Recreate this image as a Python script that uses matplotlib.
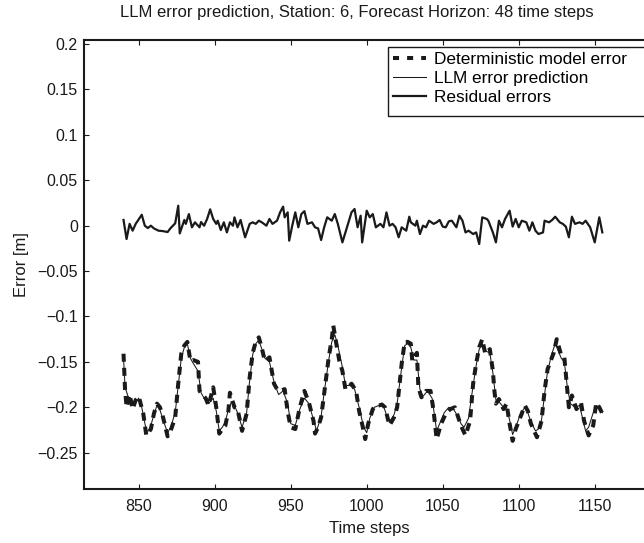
import matplotlib
matplotlib.use("Agg")
import matplotlib.pyplot as plt
from matplotlib.lines import Line2D
from matplotlib.patches import Rectangle

plt.rcParams['font.family'] = ['Liberation Sans', 'DejaVu Sans']

# deterministic model error
det_steps = [840, 841, 842, 844, 846, 848, 850, 853, 855, 858, 860, 862, 864, 866, 869, 871,
             874, 876, 878, 880, 882, 884, 886, 889, 890, 892, 894, 896, 899, 901, 903, 905,
             907, 909, 910, 913, 915, 918, 921, 923, 925, 927, 929, 931, 933, 936, 939, 941,
             943, 946, 948, 950, 953, 956, 959, 962, 965, 966, 968, 970, 972, 975, 977, 978,
             980, 982, 984, 986, 988, 990, 993, 995, 998, 999, 1001, 1004, 1006, 1008, 1010,
             1012, 1015, 1018, 1020, 1023, 1025, 1027, 1029, 1030, 1033, 1034, 1036, 1039,
             1042, 1044, 1046, 1049, 1052, 1055, 1058, 1061, 1063, 1065, 1068, 1070, 1072,
             1074, 1076, 1078, 1081, 1083, 1084, 1085, 1087, 1090, 1092, 1094, 1096, 1098,
             1102, 1104, 1106, 1108, 1112, 1115, 1117, 1119, 1123, 1125, 1128, 1130, 1131,
             1132, 1133, 1135, 1138, 1141, 1143, 1146, 1149, 1151, 1153, 1155]
det_err = [-0.141, -0.180, -0.200, -0.186, -0.202, -0.192, -0.188, -0.207, -0.231, -0.224,
           -0.207, -0.196, -0.200, -0.211, -0.232, -0.226, -0.211, -0.174, -0.141, -0.132,
           -0.128, -0.149, -0.148, -0.150, -0.182, -0.186, -0.190, -0.198, -0.178, -0.200,
           -0.229, -0.224, -0.220, -0.204, -0.184, -0.200, -0.202, -0.226, -0.207, -0.167,
           -0.140, -0.128, -0.123, -0.135, -0.149, -0.145, -0.174, -0.180, -0.182, -0.180,
           -0.205, -0.222, -0.224, -0.200, -0.182, -0.195, -0.215, -0.229, -0.222, -0.211,
           -0.185, -0.145, -0.125, -0.110, -0.130, -0.149, -0.160, -0.180, -0.178, -0.174,
           -0.182, -0.204, -0.226, -0.235, -0.218, -0.202, -0.198, -0.198, -0.197, -0.200,
           -0.220, -0.211, -0.200, -0.152, -0.128, -0.128, -0.130, -0.149, -0.140, -0.178,
           -0.189, -0.182, -0.182, -0.204, -0.235, -0.218, -0.207, -0.202, -0.200, -0.215,
           -0.224, -0.231, -0.215, -0.174, -0.152, -0.134, -0.125, -0.141, -0.136, -0.160,
           -0.182, -0.196, -0.191, -0.202, -0.196, -0.218, -0.237, -0.224, -0.207, -0.198,
           -0.204, -0.218, -0.233, -0.215, -0.182, -0.158, -0.140, -0.125, -0.143, -0.145,
           -0.163, -0.182, -0.200, -0.187, -0.202, -0.195, -0.215, -0.231, -0.220, -0.195,
           -0.200, -0.207]

# LLM error prediction
llm_steps = [840, 841, 843, 845, 847, 850, 852, 855, 857, 860, 862, 864, 866, 869, 871, 874,
             876, 878, 880, 882, 884, 886, 889, 891, 893, 896, 899, 901, 903, 905, 907, 909,
             911, 913, 915, 918, 921, 923, 925, 927, 929, 931, 933, 936, 939, 942, 945, 948,
             950, 953, 956, 959, 962, 965, 967, 970, 972, 975, 977, 979, 981, 984, 986, 989,
             992, 995, 998, 1000, 1002, 1005, 1008, 1011, 1014, 1016, 1018, 1020, 1023, 1025,
             1027, 1029, 1031, 1033, 1035, 1037, 1040, 1043, 1046, 1048, 1051, 1054, 1057,
             1060, 1062, 1064, 1067, 1070, 1072, 1074, 1076, 1078, 1081, 1083, 1085, 1087,
             1090, 1092, 1094, 1096, 1098, 1101, 1104, 1106, 1108, 1111, 1113, 1115, 1117,
             1119, 1122, 1124, 1126, 1128, 1130, 1132, 1134, 1137, 1140, 1142, 1144, 1146,
             1149, 1151, 1153, 1155]
llm_err = [-0.145, -0.178, -0.188, -0.192, -0.196, -0.190, -0.200, -0.226, -0.226, -0.208,
           -0.198, -0.203, -0.214, -0.228, -0.222, -0.206, -0.176, -0.146, -0.134, -0.130,
           -0.146, -0.152, -0.160, -0.184, -0.190, -0.196, -0.190, -0.204, -0.226, -0.222,
           -0.216, -0.202, -0.194, -0.198, -0.206, -0.222, -0.206, -0.170, -0.142, -0.130,
           -0.126, -0.136, -0.146, -0.150, -0.172, -0.186, -0.182, -0.196, -0.218, -0.220,
           -0.202, -0.190, -0.196, -0.214, -0.226, -0.210, -0.184, -0.148, -0.128, -0.120,
           -0.132, -0.156, -0.176, -0.176, -0.180, -0.200, -0.222, -0.228, -0.212, -0.200,
           -0.198, -0.198, -0.214, -0.214, -0.208, -0.196, -0.156, -0.132, -0.130, -0.134,
           -0.148, -0.148, -0.180, -0.188, -0.182, -0.190, -0.226, -0.218, -0.206, -0.200,
           -0.202, -0.210, -0.218, -0.222, -0.212, -0.176, -0.154, -0.136, -0.130, -0.138,
           -0.140, -0.162, -0.192, -0.194, -0.200, -0.200, -0.214, -0.230, -0.222, -0.208,
           -0.200, -0.206, -0.216, -0.226, -0.224, -0.214, -0.186, -0.160, -0.140, -0.130,
           -0.138, -0.146, -0.150, -0.178, -0.196, -0.200, -0.198, -0.212, -0.226, -0.222,
           -0.206, -0.198, -0.202, -0.206]

# residual errors
res_steps = [840, 842, 844, 846, 848, 852, 854, 856, 858, 860, 863, 866, 869, 871, 874, 876,
             877, 880, 881, 883, 885, 887, 890, 891, 893, 895, 897, 899, 901, 902, 904, 906,
             908, 910, 912, 913, 915, 917, 920, 923, 925, 927, 929, 931, 934, 936, 938, 941,
             943, 945, 946, 948, 949, 951, 953, 955, 957, 959, 961, 964, 966, 968, 970, 972,
             974, 977, 979, 981, 984, 987, 990, 992, 994, 996, 997, 1000, 1002, 1004, 1006,
             1009, 1011, 1013, 1015, 1017, 1019, 1021, 1023, 1026, 1028, 1029, 1032, 1033,
             1035, 1037, 1039, 1041, 1044, 1046, 1048, 1050, 1052, 1054, 1056, 1059, 1061,
             1063, 1065, 1067, 1070, 1072, 1074, 1076, 1079, 1080, 1083, 1085, 1087, 1089,
             1091, 1094, 1096, 1098, 1100, 1102, 1105, 1107, 1109, 1111, 1113, 1116, 1117,
             1120, 1122, 1124, 1127, 1129, 1131, 1133, 1135, 1137, 1140, 1142, 1144, 1147,
             1150, 1152, 1153, 1155]
res_err = [0.0063, -0.0147, 0.0020, -0.0055, 0.0020, 0.0120, 0.0000, -0.0026, 0.0000,
           -0.0030, -0.0055, -0.0060, -0.0070, -0.0026, 0.0026, 0.0220, -0.0085, 0.0063,
           0.0020, 0.0128, -0.0018, 0.0037, -0.0018, 0.0040, 0.0000, 0.0074, 0.0180, 0.0074,
           0.0020, 0.0055, -0.0048, 0.0037, -0.0074, 0.0037, 0.0000, 0.0092, -0.0018, 0.0063,
           -0.0128, 0.0020, 0.0037, 0.0020, 0.0055, 0.0037, 0.0000, 0.0074, 0.0020, 0.0055,
           0.0147, 0.0210, 0.0092, 0.0147, -0.0165, 0.0000, 0.0147, -0.0018, 0.0128, 0.0160,
           0.0020, 0.0037, -0.0018, -0.0030, -0.0158, -0.0018, 0.0092, 0.0055, 0.0128, 0.0020,
           -0.0184, -0.0018, 0.0147, 0.0184, -0.0018, 0.0110, -0.0184, 0.0165, 0.0092, 0.0128,
           -0.0018, 0.0020, -0.0018, 0.0147, 0.0000, 0.0020, -0.0018, -0.0128, -0.0018,
           -0.0055, 0.0099, 0.0037, 0.0000, 0.0055, -0.0092, 0.0000, -0.0018, 0.0055, 0.0020,
           0.0037, 0.0063, -0.0010, -0.0018, 0.0048, 0.0055, -0.0018, 0.0110, 0.0055, -0.0074,
           -0.0055, -0.0092, -0.0074, -0.0202, 0.0092, 0.0074, 0.0055, -0.0074, -0.0184,
           0.0055, -0.0018, 0.0074, 0.0165, -0.0010, 0.0074, -0.0018, 0.0055, 0.0037, -0.0055,
           0.0037, -0.0055, -0.0092, -0.0074, 0.0055, 0.0037, 0.0063, 0.0099, 0.0037, 0.0020,
           -0.0010, -0.0128, 0.0099, 0.0020, 0.0037, 0.0020, 0.0055, -0.0018, -0.0184, 0.0000,
           0.0092, -0.0074]

xticks = [850, 900, 950, 1000, 1050, 1100, 1150]
yticks = [-0.25, -0.2, -0.15, -0.1, -0.05, 0, 0.05, 0.1, 0.15, 0.2]
ytick_labels = ['\u22120.25', '\u22120.2', '\u22120.15', '\u22120.1', '\u22120.05',
                '0', '0.05', '0.1', '0.15', '0.2']

W, H = 644, 543
ink = '#1a1a1a'
dash = (0, (2.0, 1.5))
fig = plt.figure(figsize=(W / 100, H / 100), dpi=100)
ax = fig.add_axes([84 / W, 54 / H, 570 / W, 449 / H])

ax.plot(det_steps, det_err, color=ink, lw=2.9, linestyle=dash,
        dash_capstyle='butt', label='Deterministic model error')
ax.plot(llm_steps, llm_err, color=ink, lw=0.75, label='LLM error prediction')
ax.plot(res_steps, res_err, color=ink, lw=1.6, label='Residual errors')

ax.set_xlim(814, 1189)
ax.set_ylim(-0.29, 0.2045)
ax.set_xticks(xticks)
ax.set_yticks(yticks)
ax.set_yticklabels(ytick_labels)
ax.tick_params(direction='in', length=3.6, width=0.8, labelsize=11.5, colors=ink,
               top=True, right=True)
ax.tick_params(axis='x', pad=7.5)
ax.tick_params(axis='y', pad=4.5)
for s in ax.spines.values():
    s.set_linewidth(1.5)
    s.set_color(ink)

ax.set_xlabel('Time steps', fontsize=12, color=ink, labelpad=5)
ax.set_ylabel('Error [m]', fontsize=12, color=ink, labelpad=6)
fig.text(120 / W, 1 - 13 / H, 'LLM error prediction, Station: 6, Forecast Horizon: 48 time steps',
         ha='left', va='center', fontsize=12, color=ink)

# legend box runs past the right edge of the picture, as in the original
box = Rectangle((388 / W, 1 - 116 / H), 280 / W, 69 / H, transform=fig.transFigure,
                facecolor='white', edgecolor=ink, linewidth=1.0, zorder=4, clip_on=False)
ax.add_artist(box)

handles = [Line2D([], [], color=ink, lw=2.9, linestyle=(0, (1.5, 2.0)), dash_capstyle='butt'),
           Line2D([], [], color=ink, lw=0.75),
           Line2D([], [], color=ink, lw=1.6)]
leg = ax.legend(handles, ['Deterministic model error', 'LLM error prediction', 'Residual errors'],
                loc='upper left', bbox_to_anchor=(388 / W, 1 - 47 / H),
                bbox_transform=fig.transFigure, fontsize=12.4, frameon=False,
                borderpad=0.3, labelspacing=0.22, handlelength=1.9, handletextpad=0.5,
                borderaxespad=0)
leg.set_zorder(5)

fig.savefig('out.png', dpi=100)
